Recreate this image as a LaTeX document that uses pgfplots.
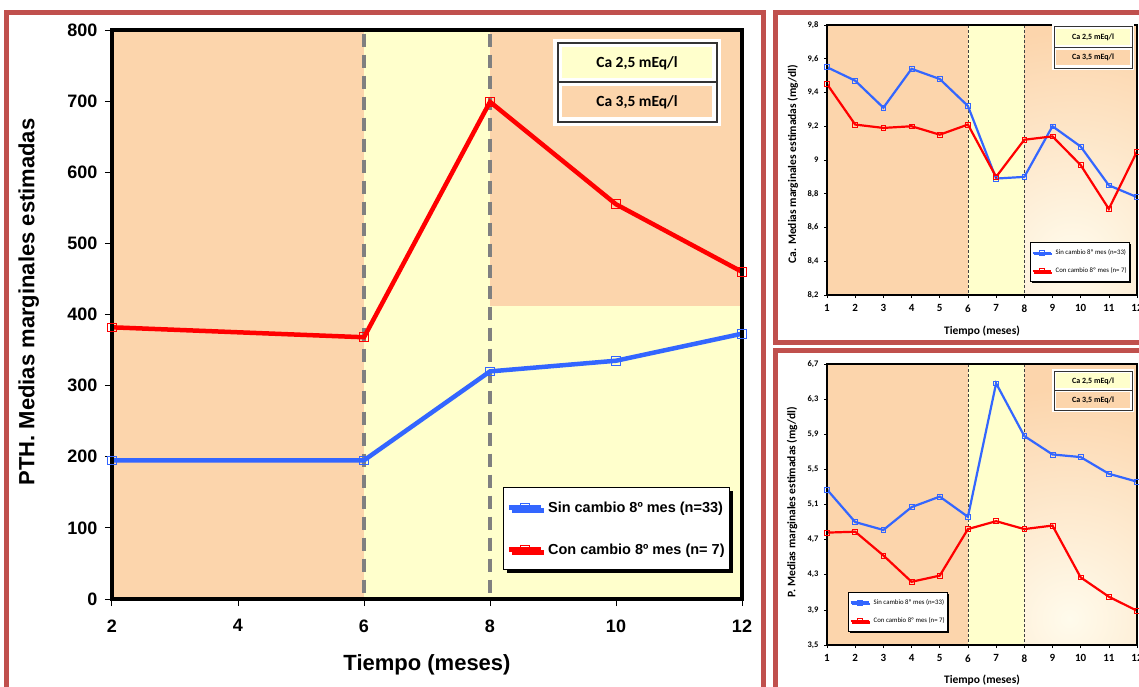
\documentclass[border=0pt]{standalone}
\usepackage{fontspec}
\setmainfont{Liberation Sans}
\newfontfamily\carlito{Carlito}
\usepackage{pgfplots}
\pgfplotsset{compat=1.18}
\usetikzlibrary{shadows}

\definecolor{frame}{RGB}{192,80,77}
\definecolor{peach}{RGB}{252,213,172}
\definecolor{yel}{RGB}{255,255,204}
\definecolor{cream}{RGB}{255,251,236}
\definecolor{sblue}{RGB}{51,102,255}
\definecolor{sred}{RGB}{255,0,0}

\pgfplotsset{
  /pgf/number format/assume math mode=true,
  small panel/.style={
    scale only axis, width=310pt, clip=false, axis on top,
    xmin=1, xmax=12, xtick={1,...,12},
    axis line style={line width=1.3pt},
    tick align=outside, tick pos=left, major tick length=3pt,
    every tick/.style={black, line width=0.6pt},
    xticklabel style={font=\carlito\fontsize{11}{12}\selectfont\bfseries, yshift=-3pt},
    yticklabel style={font=\carlito\fontsize{8.5}{9}\selectfont\bfseries, xshift=-2pt,
      /pgf/number format/.cd, use comma, fixed, precision=1},
    label style={font=\carlito\fontsize{11.5}{13}\selectfont\bfseries},
    legend style={draw=black, line width=0.8pt, fill=white,
      drop shadow={shadow xshift=1.5pt,shadow yshift=-1.5pt,fill=black,opacity=1},
      font=\carlito\fontsize{6.8}{8}\selectfont, inner xsep=1pt, inner ysep=5pt,
      row sep=8pt},
    legend cell align=left,
    legend image code/.code={\draw[mark repeat=2,mark phase=2]
      plot coordinates {(0pt,0pt) (9pt,0pt) (18pt,0pt)};
      \path (20pt,0pt);},
  },
  sblueS/.style={sblue, line width=2.2pt, mark=square, mark size=2.4pt,
    mark options={line width=0.6pt, fill=none}},
  sredS/.style={sred, line width=2.2pt, mark=square, mark size=2.4pt,
    mark options={line width=0.6pt, fill=none}},
}

\begin{document}
\begin{tikzpicture}
\path[use as bounding box] (0pt,0pt) rectangle (1139pt,686pt);

% main panel: PTH
\begin{axis}[
  at={(112pt,87pt)}, anchor=south west,
  scale only axis, width=630pt, height=569pt,
  xmin=2, xmax=12, ymin=0, ymax=800,
  xtick={2,4,6,8,10,12}, ytick={0,100,...,800},
  clip=false, axis on top,
  axis line style={line width=4pt},
  tick align=outside, tick pos=left, major tick length=7pt,
  every tick/.style={black, line width=1pt},
  ticklabel style={font=\fontsize{18}{20}\selectfont\bfseries},
  xticklabel style={yshift=-10pt},
  yticklabel style={xshift=-4pt},
  xlabel={Tiempo (meses)},
  ylabel={PTH. Medias marginales estimadas},
  xlabel style={font=\fontsize{22}{24}\selectfont\bfseries,
    at={(axis description cs:0.5,-0.116)}, anchor=center},
  ylabel style={font=\fontsize{22}{24}\selectfont\bfseries,
    at={(axis description cs:-0.132,0.522)}, anchor=center},
  legend style={at={(axis description cs:0.6206,0.1968)}, anchor=north west,
    draw=black, line width=1.2pt, fill=white,
    drop shadow={shadow xshift=3pt,shadow yshift=-3pt,fill=black,opacity=1},
    font=\fontsize{14.5}{16}\selectfont\bfseries,
    inner xsep=3pt, inner ysep=12pt, row sep=26pt},
  legend cell align=left,
  legend image code/.code={\draw[mark repeat=2,mark phase=2]
    plot coordinates {(0pt,0pt) (16pt,0pt) (32pt,0pt)};
    \path (35pt,0pt);},
]
\fill[peach] (axis cs:2,0) rectangle (axis cs:6,800);
\fill[yel] (axis cs:6,0) rectangle (axis cs:8,800);
\fill[peach] (axis cs:8,412) rectangle (axis cs:12,800);
\fill[yel] (axis cs:8,0) rectangle (axis cs:12,412);
\draw[gray, line width=3.5pt, dash pattern=on 13pt off 8pt]
  (axis cs:6,795) -- (axis cs:6,0);
\draw[gray, line width=3.5pt, dash pattern=on 13pt off 8pt]
  (axis cs:8,795) -- (axis cs:8,0);
\addplot[sblue, line width=4.5pt, mark=square, mark size=4.3pt,
  mark options={line width=1pt, fill=none}] coordinates {
  (2,195) (6,195) (8,320) (10,335) (12,373)};
\addlegendentry{Sin cambio 8º mes (n=33)}
\addplot[sred, line width=4.5pt, mark=square, mark size=4.3pt,
  mark options={line width=1pt, fill=none}] coordinates {
  (2,382) (6,368) (8,699) (10,555) (12,460)};
\addlegendentry{Con cambio 8º mes (n= 7)}
\end{axis}

% top-right panel: Ca
\begin{axis}[small panel,
  at={(827pt,391pt)}, anchor=south west, height=270pt,
  ymin=8.2, ymax=9.8, ytick={8.2,8.4,8.6,8.8,9,9.2,9.4,9.6,9.8},
  xlabel={Tiempo (meses)},
  ylabel={Ca. Medias marginales estimadas (mg/dl)},
  xlabel style={at={(axis description cs:0.5,-0.133)}, anchor=center},
  ylabel style={at={(axis description cs:-0.11,0.485)}, anchor=center},
  legend style={at={(axis description cs:0.655,0.196)}, anchor=north west},
]
\fill[peach] (axis cs:1,8.2) rectangle (axis cs:6,9.8);
\fill[yel] (axis cs:6,8.2) rectangle (axis cs:8,9.8);
\begin{scope}
  \clip (axis cs:8,8.2) rectangle (axis cs:12,9.8);
  \fill[peach] (axis cs:8,8.2) rectangle (axis cs:12,9.8);
  \shade[inner color=cream, outer color=peach] (axis cs:9.7,8.4) circle (230pt);
\end{scope}
\draw[black!75, line width=0.8pt, dash pattern=on 3pt off 2pt]
  (axis cs:6,9.8) -- (axis cs:6,8.2);
\draw[black!75, line width=0.8pt, dash pattern=on 3pt off 2pt]
  (axis cs:8,9.8) -- (axis cs:8,8.2);
\addplot[sblueS] coordinates {
  (1,9.55) (2,9.47) (3,9.31) (4,9.54) (5,9.48) (6,9.32)
  (7,8.89) (8,8.90) (9,9.20) (10,9.08) (11,8.85) (12,8.78)};
\addlegendentry{Sin cambio 8º mes (n=33)}
\addplot[sredS] coordinates {
  (1,9.45) (2,9.21) (3,9.19) (4,9.20) (5,9.15) (6,9.21)
  (7,8.90) (8,9.12) (9,9.14) (10,8.97) (11,8.71) (12,9.05)};
\addlegendentry{Con cambio 8º mes (n= 7)}
\end{axis}

% bottom-right panel: P
\begin{axis}[small panel,
  at={(827pt,41pt)}, anchor=south west, height=281pt,
  ymin=3.5, ymax=6.7, ytick={3.5,3.9,4.3,4.7,5.1,5.5,5.9,6.3,6.7},
  xlabel={Tiempo (meses)},
  ylabel={P. Medias marginales estimadas (mg/dl)},
  xlabel style={at={(axis description cs:0.5,-0.125)}, anchor=center},
  ylabel style={at={(axis description cs:-0.113,0.509)}, anchor=center},
  legend style={at={(axis description cs:0.068,0.189)}, anchor=north west},
]
\fill[peach] (axis cs:1,3.5) rectangle (axis cs:6,6.7);
\fill[yel] (axis cs:6,3.5) rectangle (axis cs:8,6.7);
\begin{scope}
  \clip (axis cs:8,3.5) rectangle (axis cs:12,6.7);
  \fill[peach] (axis cs:8,3.5) rectangle (axis cs:12,6.7);
  \shade[inner color=cream, outer color=peach] (axis cs:9.6,3.8) circle (230pt);
\end{scope}
\draw[black!75, line width=0.8pt, dash pattern=on 3pt off 2pt]
  (axis cs:6,6.7) -- (axis cs:6,3.5);
\draw[black!75, line width=0.8pt, dash pattern=on 3pt off 2pt]
  (axis cs:8,6.7) -- (axis cs:8,3.5);
\addplot[sblueS] coordinates {
  (1,5.27) (2,4.90) (3,4.81) (4,5.07) (5,5.19) (6,4.96)
  (7,6.48) (8,5.88) (9,5.67) (10,5.64) (11,5.45) (12,5.36)};
\addlegendentry{Sin cambio 8º mes (n=33)}
\addplot[sredS] coordinates {
  (1,4.78) (2,4.79) (3,4.52) (4,4.22) (5,4.29) (6,4.82)
  (7,4.91) (8,4.82) (9,4.86) (10,4.27) (11,4.05) (12,3.89)};
\addlegendentry{Con cambio 8º mes (n= 7)}
\end{axis}

% band legend, main panel
\fill[white] (553pt,560pt) rectangle (721pt,647pt);
\fill[yel] (562pt,608pt) rectangle (712pt,639pt);
\fill[peach] (562pt,568.5pt) rectangle (712pt,599.5pt);
\draw[black!80, line width=1.5pt] (558pt,564pt) rectangle (717pt,643pt);
\draw[black!80, line width=1.5pt] (558pt,604pt) -- (717pt,604pt);
\node[font=\carlito\fontsize{15.5}{17}\selectfont\bfseries] at (637pt,623pt) {Ca 2,5 mEq/l};
\node[font=\carlito\fontsize{15.5}{17}\selectfont\bfseries] at (637pt,584pt) {Ca 3,5 mEq/l};

% band legend, top-right panel
\fill[white] (1052pt,616pt) rectangle (1134pt,662pt);
\fill[yel] (1056pt,641pt) rectangle (1130pt,657pt);
\fill[peach] (1056pt,621pt) rectangle (1130pt,636pt);
\draw[black!80, line width=0.8pt] (1054pt,618pt) rectangle (1132pt,660pt);
\draw[black!80, line width=0.8pt] (1054pt,639pt) -- (1132pt,639pt);
\node[font=\carlito\fontsize{8}{9}\selectfont\bfseries] at (1093pt,649pt) {Ca 2,5 mEq/l};
\node[font=\carlito\fontsize{8}{9}\selectfont\bfseries] at (1093pt,628.5pt) {Ca 3,5 mEq/l};

% band legend, bottom-right panel
\fill[white] (1052pt,274pt) rectangle (1134pt,317pt);
\fill[yel] (1056pt,298pt) rectangle (1130pt,313pt);
\fill[peach] (1056pt,278pt) rectangle (1130pt,294pt);
\draw[black!80, line width=0.8pt] (1054pt,276pt) rectangle (1132pt,315pt);
\draw[black!80, line width=0.8pt] (1054pt,296pt) -- (1132pt,296pt);
\node[font=\carlito\fontsize{8}{9}\selectfont\bfseries] at (1093pt,305pt) {Ca 2,5 mEq/l};
\node[font=\carlito\fontsize{8}{9}\selectfont\bfseries] at (1093pt,286pt) {Ca 3,5 mEq/l};

% panel frames
\draw[frame, line width=5pt] (6.5pt,-20pt) rectangle (763pt,673.5pt);
\draw[frame, line width=5pt] (775.5pt,343pt) rectangle (1160pt,673.5pt);
\draw[frame, line width=5pt] (775.5pt,-20pt) rectangle (1160pt,335.5pt);
\end{tikzpicture}
\end{document}
